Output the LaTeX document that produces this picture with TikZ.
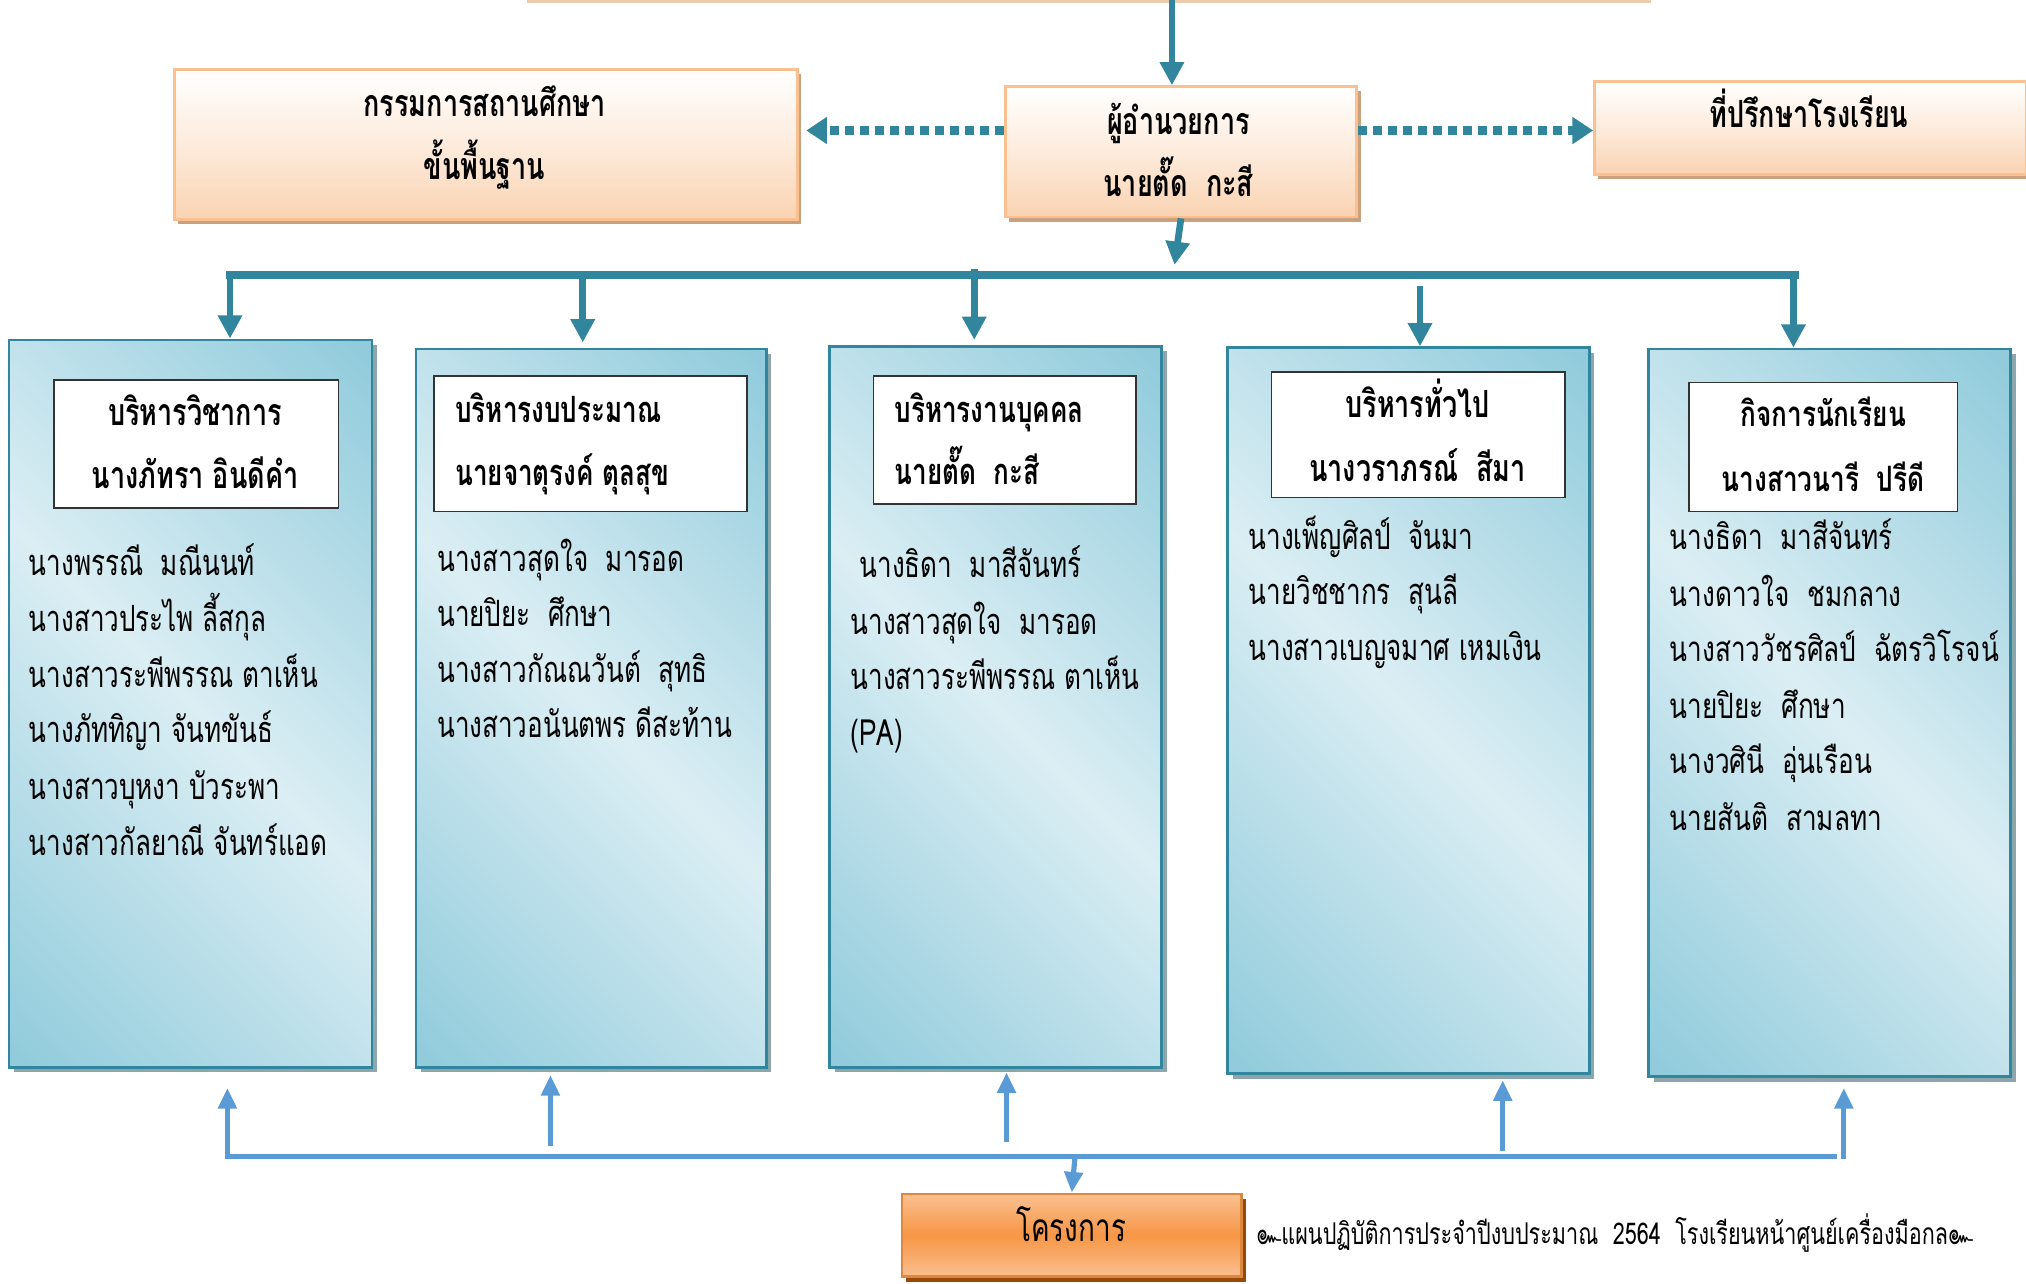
\documentclass[tikz,border=0pt]{standalone}
\usepackage{fontspec}
\newfontfamily\thaiR[Script=Thai,FakeStretch=0.75]{Loma}
\newfontfamily\thaiC[Script=Thai,FakeStretch=0.72]{Loma}
\usetikzlibrary{arrows.meta,shadows}
\definecolor{teal1}{HTML}{31859C}
\definecolor{bdark}{HTML}{92CCDC}
\definecolor{blight}{HTML}{DBEEF4}
\definecolor{peachB}{HTML}{FAD3B2}
\definecolor{peachE}{HTML}{FAC08F}
\definecolor{peachS}{HTML}{C9A17F}
\definecolor{orgM}{HTML}{F79646}
\definecolor{orgL}{HTML}{FAC090}
\definecolor{orgS}{HTML}{984807}
\definecolor{lineblue}{HTML}{5B9BD5}
\definecolor{shgray}{HTML}{8DA6AC}
\definecolor{tanline}{HTML}{EBCDAE}
\pgfdeclarehorizontalshading{colshade}{100bp}{color(0bp)=(bdark); color(16bp)=(bdark); color(50bp)=(blight); color(84bp)=(bdark); color(100bp)=(bdark)}
\tikzset{
  peachbox/.style={draw=peachE, line width=1pt, top color=white, bottom color=peachB, middle color=peachB!45!white, inner sep=0pt,
    general shadow={fill=peachS, shadow xshift=1.5pt, shadow yshift=-1.8pt}},
  colbox/.style={draw=teal1, line width=1pt, shade, shading=colshade, shading angle=45, inner sep=0pt,
    general shadow={fill=shgray, shadow xshift=2pt, shadow yshift=-2pt}},
  titlebox/.style={draw=black!80, line width=0.6pt, fill=white, inner sep=0pt},
  projbox/.style={draw=orgM!90!black, line width=1pt, top color=orgL, bottom color=orgL, middle color=orgM, inner sep=0pt,
    general shadow={fill=orgS, shadow xshift=1.5pt, shadow yshift=-2pt}},
  mem/.style={anchor=base west, inner sep=0pt, font=\thaiC\fontsize{14}{16}\selectfont},
  memR/.style={anchor=base west, inner sep=0pt, font=\thaiR\fontsize{13.5}{16}\selectfont},
  ttl/.style={anchor=base, inner sep=0pt, font=\thaiC\fontsize{14.5}{16}\selectfont\bfseries},
  ttlw/.style={anchor=base west, inner sep=0pt, font=\thaiC\fontsize{14}{16}\selectfont\bfseries},
  ttlR/.style={anchor=base, inner sep=0pt, font=\thaiR\fontsize{13.5}{16}\selectfont\bfseries},
  tarrow/.style={draw=teal1, line width=2.6pt, -{Triangle[width=9pt,length=9pt]}},
  tbar/.style={draw=teal1, line width=3.2pt},
  dotarrow/.style={draw=teal1, line width=3.4pt, dash pattern=on 3.4pt off 2.4pt, -{Triangle[width=10pt,length=8pt]}},
  barrow/.style={draw=lineblue, line width=2pt, -{Triangle[width=7pt,length=8pt]}},
  bbar/.style={draw=lineblue, line width=2.2pt},
}
\begin{document}
\begin{tikzpicture}[x=0.5pt,y=-0.5pt]
\useasboundingbox (0,0) rectangle (1568,993);
% top fragment
\draw[tanline, line width=1.2pt] (408,1) -- (1278,1);

% peach boxes
\node (bog) [peachbox, minimum width=241pt, minimum height=58pt] at (376,112) {};
\node (dir) [peachbox, minimum width=136pt, minimum height=50.5pt] at (914,117.5) {};
\node (adv) [peachbox, minimum width=167pt, minimum height=36pt] at (1401,99) {};
\node (bogA) [ttl] at (375,90) {กรรมการสถานศึกษา};
\node (bogB) [ttl] at (375,139) {ขั้นพื้นฐาน};
\node (dirA) [ttl] at (912,104) {ผู้อำนวยการ};
\node (dirB) [ttl] at (912,152) {นายตั๊ด\ \ กะสี};
\node (advA) [ttl] at (1400,99) {ที่ปรึกษาโรงเรียน};

% columns
\node (c1) [colbox, minimum width=140.5pt, minimum height=281.5pt] at (147.5,544.5) {};
\node (c2) [colbox, minimum width=135.5pt, minimum height=278pt] at (457.5,548) {};
\node (c3) [colbox, minimum width=128.5pt, minimum height=279pt] at (770.5,547) {};
\node (c4) [colbox, minimum width=140pt, minimum height=281pt] at (1090,550) {};
\node (c5) [colbox, minimum width=140pt, minimum height=281.5pt] at (1416,551.5) {};

% title boxes
\node (t1) [titlebox, minimum width=110pt, minimum height=49.5pt] at (152,343.5) {};
\node (t2) [titlebox, minimum width=121pt, minimum height=52.5pt] at (457,343.5) {};
\node (t3) [titlebox, minimum width=101.5pt, minimum height=49.5pt] at (777.5,340.5) {};
\node (t4) [titlebox, minimum width=113.5pt, minimum height=48.5pt] at (1097.5,336.5) {};
\node (t5) [titlebox, minimum width=104pt, minimum height=50pt] at (1411,346) {};

\node (t1a) [ttl] at (151,329) {บริหารวิชาการ};
\node (t1b) [ttl] at (151,378) {นางภัทรา อินดีคำ};
\node (t2a) [ttlw] at (352,327) {บริหารงบประมาณ};
\node (t2b) [ttlw] at (352,376) {นายจาตุรงค์ ตุลสุข};
\node (t3a) [ttlw] at (692,327) {บริหารงานบุคคล};
\node (t3b) [ttlw] at (692,375) {นายตั๊ด\ \ กะสี};
\node (t4a) [ttl] at (1097,323) {บริหารทั่วไป};
\node (t4b) [ttl] at (1097,373) {นางวราภรณ์\ \ สีมา};
\node (t5a) [ttlR] at (1411,330) {กิจการนักเรียน};
\node (t5b) [ttlR] at (1411,380) {นางสาวนารี\ \ ปรีดี};

% members column 1
\node (m11) [mem] at (22,445) {นางพรรณี\ \ มณีนนท์};
\node (m12) [mem] at (22,489) {นางสาวประไพ ลี้สกุล};
\node (m13) [mem] at (22,532) {นางสาวระพีพรรณ ตาเห็น};
\node (m14) [mem] at (22,575) {นางภัททิญา จันทขันธ์};
\node (m15) [mem] at (22,619) {นางสาวบุหงา บัวระพา};
\node (m16) [mem] at (22,662) {นางสาวกัลยาณี จันทร์แอด};
% column 2
\node (m21) [mem] at (338,442) {นางสาวสุดใจ\ \ มารอด};
\node (m22) [mem] at (338,485) {นายปิยะ\ \ ศึกษา};
\node (m23) [mem] at (338,528) {นางสาวกัณณวันต์\ \ สุทธิ};
\node (m24) [mem] at (338,571) {นางสาวอนันตพร ดีสะท้าน};
% column 3
\node (m31) [mem] at (665,447) {นางธิดา\ \ มาสีจันทร์};
\node (m32) [mem] at (658,491) {นางสาวสุดใจ\ \ มารอด};
\node (m33) [mem] at (658,534) {นางสาวระพีพรรณ ตาเห็น};
\node (m34) [mem] at (658,577) {(PA)};
% column 4
\node (m41) [mem] at (966,425) {นางเพ็ญศิลป์\ \ จันมา};
\node (m42) [mem] at (966,468) {นายวิชชากร\ \ สุนลี};
\node (m43) [mem] at (966,511) {นางสาวเบญจมาศ เหมเงิน};
% column 5
\node (m51) [memR] at (1292,425) {นางธิดา\ \ มาสีจันทร์};
\node (m52) [memR] at (1292,469) {นางดาวใจ\ \ ชมกลาง};
\node (m53) [memR] at (1292,512) {นางสาววัชรศิลป์\ \ ฉัตรวิโรจน์};
\node (m54) [memR] at (1292,556) {นายปิยะ\ \ ศึกษา};
\node (m55) [memR] at (1292,599) {นางวศินี\ \ อุ่นเรือน};
\node (m56) [memR] at (1292,643) {นายสันติ\ \ สามลทา};

% project box and footer
\node (proj) [projbox, minimum width=131.5pt, minimum height=32pt] at (829.5,956) {};
\node (projT) [anchor=base, inner sep=0pt, font=\thaiC\fontsize{15}{18}\selectfont] at (829,961) {โครงการ};
\node (foot) [anchor=base west, inner sep=0pt, font=\thaiC\fontsize{11.6}{13}\selectfont] at (972,963) {๛แผนปฏิบัติการประจำปีงบประมาณ\ \ 2564\ \ โรงเรียนหน้าศูนย์เครื่องมือกล๛};

% teal connectors
\coordinate (topin) at (907,0);
\draw[tarrow] (topin) -- (topin |- dir.north);
\draw[dotarrow] (dir.west |- 0,101) -- (bog.east |- 0,101) [shorten >=3pt];
\draw[dotarrow] (dir.east |- 0,101) -- (adv.west |- 0,101);
\coordinate (db) at (909,205);
\draw[tarrow] (dir.south) -- (db);
\coordinate (barL) at (175,213);
\coordinate (barR) at (1392,213);
\draw[tbar] (barL) -- (barR);
\coordinate (d1) at (178,213);
\coordinate (d2) at (451,211);
\coordinate (d3) at (754,208);
\coordinate (d4) at (1099,221);
\coordinate (d5) at (1388,213);
\draw[tarrow] (d1) -- (d1 |- c1.north);
\draw[tarrow] (d2) -- ([yshift=2pt]d2 |- c2.north);
\draw[tarrow] (d3) -- ([yshift=2pt]d3 |- c3.north);
\draw[tarrow] (d4) -- (d4 |- c4.north);
\draw[tarrow] (d5) -- (d5 |- c5.north);

% blue connectors
\coordinate (bL) at (176,895);
\coordinate (bR) at (1422,895);
\draw[bbar] (bL) -- (bR);
\coordinate (u1) at (176,842);
\coordinate (u2) at (426,832);
\coordinate (u3) at (779,830);
\coordinate (u4) at (1163,836);
\coordinate (u5) at (1427,842);
\coordinate (s2) at (426,887);
\coordinate (s3) at (779,884);
\coordinate (s4) at (1163,891);
\coordinate (s5) at (1427,897);
\draw[barrow] ([yshift=-1pt]bL) -- (u1);
\draw[barrow] (s2) -- (u2);
\draw[barrow] (s3) -- (u3);
\draw[barrow] (s4) -- (u4);
\draw[barrow] (s5) -- (u5);
\coordinate (pb) at (832,895);
\draw[barrow] (pb) -- (proj.north);
\end{tikzpicture}
\end{document}
